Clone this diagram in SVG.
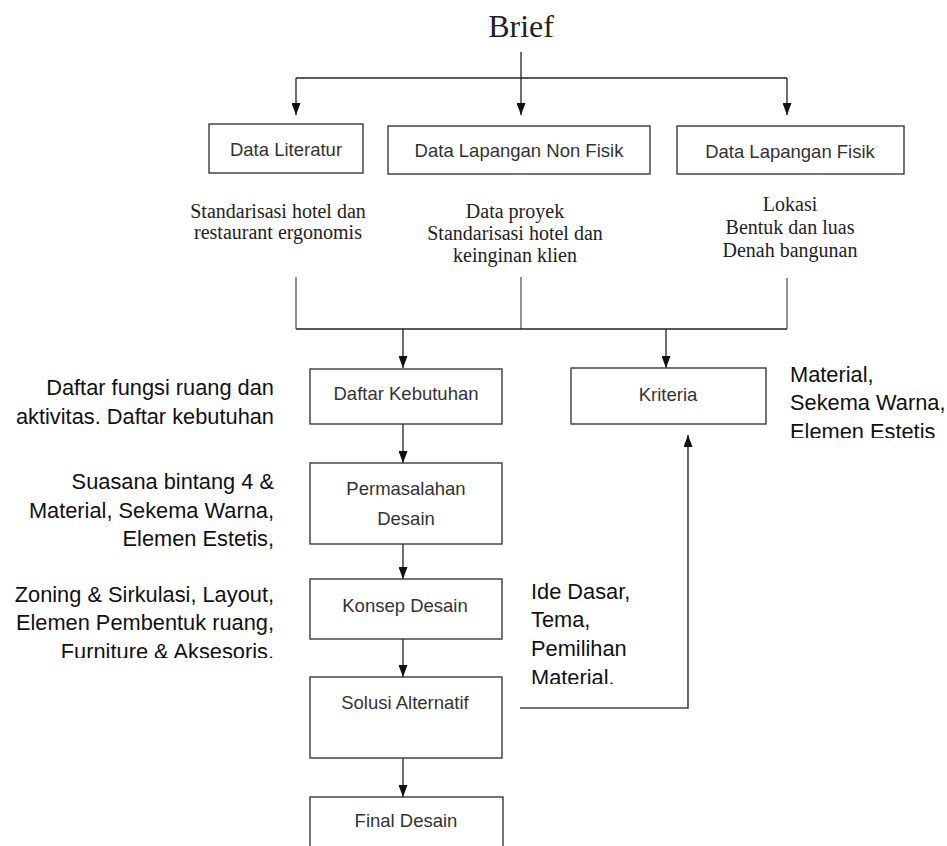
<svg xmlns="http://www.w3.org/2000/svg" width="947" height="846" viewBox="0 0 947 846">
<style>
.box{fill:#fff;stroke:#3a3a3a;stroke-width:1.4}
.bl{font-family:"Liberation Sans",Arial,sans-serif;font-size:18.5px;fill:#333;text-anchor:middle}
.tm{font-family:"Liberation Serif","Times New Roman",serif;font-size:20px;fill:#222;text-anchor:middle}
.sd{font-family:"Liberation Sans",Arial,sans-serif;font-size:21.8px;fill:#111}
.ln{fill:none;stroke:#222;stroke-width:1.3}
.gl{fill:none;stroke:#777;stroke-width:1.6}
</style>
<defs>
<marker id="ah" viewBox="0 0 12 9" refX="12" refY="4.5" markerWidth="12" markerHeight="9" markerUnits="userSpaceOnUse" orient="auto">
<path d="M0,0 L12,4.5 L0,9 z" fill="#111"/>
</marker>
<clipPath id="c1"><rect x="0" y="0" width="300" height="658"/></clipPath>
<clipPath id="c2"><rect x="760" y="0" width="187" height="438"/></clipPath>
<clipPath id="c3"><rect x="515" y="560" width="200" height="124"/></clipPath>
</defs>

<rect width="947" height="846" fill="#fff"/>

<g id="brief">
<text x="521" y="37" font-family="Liberation Serif,'Times New Roman',serif" font-size="32" fill="#222" text-anchor="middle">Brief</text>
</g>

<g id="connectors">
<path class="ln" d="M521,52 V115" marker-end="url(#ah)"/>
<path class="ln" d="M296,78 H787"/>
<path class="ln" d="M296,78 V115" marker-end="url(#ah)"/>
<path class="ln" d="M787,78 V115" marker-end="url(#ah)"/>
<path class="gl" d="M296,277 V329"/>
<path class="gl" d="M521,277 V329"/>
<path class="gl" d="M787,278 V329"/>
<path class="ln" d="M296,329 H787"/>
<path class="ln" d="M403,329 V368" marker-end="url(#ah)"/>
<path class="ln" d="M666,329 V368" marker-end="url(#ah)"/>
<path class="ln" d="M403,424 V463" marker-end="url(#ah)"/>
<path class="ln" d="M403,544 V579" marker-end="url(#ah)"/>
<path class="ln" d="M403,639 V677" marker-end="url(#ah)"/>
<path class="ln" d="M403,758 V797" marker-end="url(#ah)"/>
<path class="gl" d="M520,708 H688 V435" marker-end="url(#ah)" style="stroke:#444"/>
</g>

<g id="data-literatur">
<rect class="box" x="209" y="124" width="154" height="49"/>
<text class="bl" x="286" y="156">Data Literatur</text>
</g>
<g id="data-nonfisik">
<rect class="box" x="388" y="126" width="262" height="48"/>
<text class="bl" x="519" y="157">Data Lapangan Non Fisik</text>
</g>
<g id="data-fisik">
<rect class="box" x="677" y="126" width="227" height="48"/>
<text class="bl" x="790" y="158">Data Lapangan Fisik</text>
</g>

<g id="txt-literatur">
<text class="tm" x="278" y="218">Standarisasi hotel dan</text>
<text class="tm" x="278" y="239">restaurant ergonomis</text>
</g>
<g id="txt-nonfisik">
<text class="tm" x="515" y="218">Data proyek</text>
<text class="tm" x="515" y="240">Standarisasi hotel dan</text>
<text class="tm" x="515" y="262">keinginan klien</text>
</g>
<g id="txt-fisik">
<text class="tm" x="790" y="211">Lokasi</text>
<text class="tm" x="790" y="234">Bentuk dan luas</text>
<text class="tm" x="790" y="257">Denah bangunan</text>
</g>

<g id="daftar-kebutuhan">
<rect class="box" x="310" y="369" width="192" height="55"/>
<text class="bl" x="406" y="400">Daftar Kebutuhan</text>
</g>
<g id="kriteria">
<rect class="box" x="571" y="368" width="195" height="56"/>
<text class="bl" x="668" y="401">Kriteria</text>
</g>
<g id="permasalahan">
<rect class="box" x="310" y="463" width="192" height="81"/>
<text class="bl" x="406" y="495">Permasalahan</text>
<text class="bl" x="406" y="525">Desain</text>
</g>
<g id="konsep">
<rect class="box" x="310" y="579" width="192" height="60"/>
<text class="bl" x="405" y="612">Konsep Desain</text>
</g>
<g id="solusi">
<rect class="box" x="310" y="677" width="192" height="81"/>
<text class="bl" x="405" y="709">Solusi Alternatif</text>
</g>
<g id="final">
<rect class="box" x="310" y="797" width="193" height="60"/>
<text class="bl" x="406" y="827">Final Desain</text>
</g>

<g id="note-kebutuhan" class="sd" text-anchor="end">
<text x="274" y="395">Daftar fungsi ruang dan</text>
<text x="274" y="424">aktivitas. Daftar kebutuhan</text>
</g>
<g id="note-permasalahan" class="sd" text-anchor="end">
<text x="274" y="489">Suasana bintang 4 &amp;</text>
<text x="274" y="518">Material, Sekema Warna,</text>
<text x="274" y="546">Elemen Estetis,</text>
</g>
<g id="note-konsep" class="sd" text-anchor="end" clip-path="url(#c1)">
<text x="274" y="602">Zoning &amp; Sirkulasi, Layout,</text>
<text x="274" y="630">Elemen Pembentuk ruang,</text>
<text x="274" y="659">Furniture &amp; Aksesoris.</text>
</g>
<g id="note-kriteria" class="sd" clip-path="url(#c2)">
<text x="790" y="382">Material,</text>
<text x="790" y="410">Sekema Warna,</text>
<text x="790" y="439">Elemen Estetis</text>
</g>
<g id="note-solusi" class="sd" clip-path="url(#c3)">
<text x="531" y="599">Ide Dasar,</text>
<text x="531" y="627">Tema,</text>
<text x="531" y="656">Pemilihan</text>
<text x="531" y="685">Material.</text>
</g>
</svg>
